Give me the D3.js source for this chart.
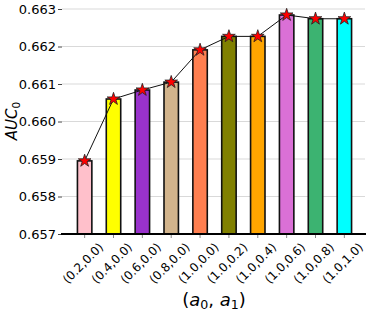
<!DOCTYPE html>
<html><head><meta charset="utf-8">
<script src="https://cdn.jsdelivr.net/npm/d3@7"></script>
<style>body{margin:0;background:#fff}svg{display:block}text{font-family:"DejaVu Sans",sans-serif}</style>
</head><body><svg id="c" width="374" height="316"></svg>
<script>
const categories = ["(0.2,0.0)","(0.4,0.0)","(0.6,0.0)","(0.8,0.0)","(1.0,0.0)","(1.0,0.2)","(1.0,0.4)","(1.0,0.6)","(1.0,0.8)","(1.0,1.0)"];
const values = [0.65895, 0.66060, 0.66084, 0.66105, 0.66191, 0.66227, 0.66227, 0.66284, 0.66274, 0.66274];
const colors = ["#ffc0cb","#ffff00","#9932cc","#d2b48c","#ff7f50","#808000","#ffa500","#da70d6","#3cb371","#00ffff"];
const yTicks = [0.657,0.658,0.659,0.660,0.661,0.662,0.663];

const svg = d3.select("#c");
const L = 62, R = 366, T = 9, B = 234;
const x = d3.scaleBand().domain(categories).range([63, 366]).paddingInner(0.5).paddingOuter(0.5);
const y = d3.scaleLinear().domain([0.657, 0.663]).range([B, T]);

// grid
svg.append("g").selectAll("line").data(yTicks).join("line")
  .attr("x1", L).attr("x2", R - 1).attr("y1", d => y(d)).attr("y2", d => y(d))
  .attr("stroke", "#d9d9d9").attr("stroke-width", 1.2);

// y axis (no spine)
const yAxis = svg.append("g").attr("transform", `translate(${L},0)`)
  .call(d3.axisLeft(y).tickValues(yTicks).tickFormat(d3.format(".3f")).tickSize(4).tickPadding(2));
yAxis.select(".domain").remove();
yAxis.selectAll(".tick line").attr("stroke", "#444");
yAxis.selectAll(".tick text").attr("font-size", 13).attr("fill", "#000").attr("font-family", "DejaVu Sans");

// bars
svg.append("g").selectAll("rect").data(values).join("rect")
  .attr("x", (d, i) => x(categories[i])).attr("width", x.bandwidth())
  .attr("y", d => y(d)).attr("height", d => B - y(d))
  .attr("fill", (d, i) => colors[i]).attr("stroke", "#111").attr("stroke-width", 1.6);

// line
const cx = (i) => x(categories[i]) + x.bandwidth() / 2;
svg.append("path").datum(values)
  .attr("d", d3.line().x((d, i) => cx(i)).y(d => y(d)))
  .attr("fill", "none").attr("stroke", "#111").attr("stroke-width", 1);

// stars
svg.append("g").selectAll("path").data(values).join("path")
  .attr("d", d3.symbol(d3.symbolStar).size(50))
  .attr("transform", (d, i) => `translate(${cx(i)},${y(d)})`)
  .attr("fill", "#ff0000").attr("stroke", "#222").attr("stroke-width", 0.8);

// bottom axis
const xAxis = svg.append("g").attr("transform", `translate(0,${B})`)
  .call(d3.axisBottom(x).tickSize(4).tickFormat(""));
xAxis.select(".domain").remove();
xAxis.selectAll(".tick line").attr("stroke", "#888");
svg.append("line").attr("x1", L - 1).attr("x2", R).attr("y1", B).attr("y2", B)
  .attr("stroke", "#000").attr("stroke-width", 2);

// x tick labels rotated 45
svg.append("g").selectAll("text").data(categories).join("text")
  .attr("transform", d => `translate(${x(d) + x.bandwidth()/2 - 1.5},263.5) rotate(-45)`)
  .attr("text-anchor", "middle").attr("dy", "0.32em")
  .attr("font-size", 12).attr("fill", "#000").text(d => d);

// x label (a0, a1)
const xl = svg.append("text").attr("x", (L + R) / 2).attr("y", 306)
  .attr("text-anchor", "middle").attr("font-size", 18).attr("fill", "#000");
xl.append("tspan").text("(");
xl.append("tspan").attr("font-style", "italic").text("a");
xl.append("tspan").attr("font-size", 12.6).attr("dy", 3).text("0");
xl.append("tspan").attr("dy", -3).text(", ");
xl.append("tspan").attr("font-style", "italic").text("a");
xl.append("tspan").attr("font-size", 12.6).attr("dy", 3).text("1");
xl.append("tspan").attr("dy", -3).text(")");

// y label AUC0
const yl = svg.append("text").attr("transform", "translate(17,121) rotate(-90)")
  .attr("text-anchor", "middle").attr("font-size", 15).attr("fill", "#000");
yl.append("tspan").attr("font-style", "italic").text("AUC");
yl.append("tspan").attr("font-size", 10.5).attr("dy", 2.5).text("0");
</script></body></html>
